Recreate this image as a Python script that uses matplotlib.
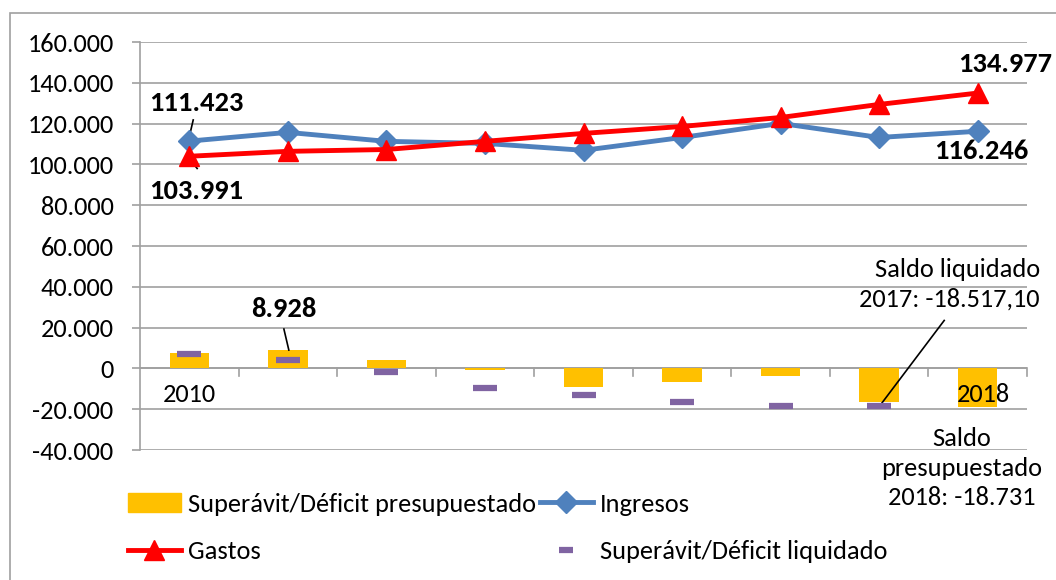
import numpy as np
import matplotlib
matplotlib.use('Agg')
import matplotlib.pyplot as plt
from matplotlib.lines import Line2D
from matplotlib.patches import Patch, Rectangle
from matplotlib.ticker import FuncFormatter

plt.rcParams['font.family'] = ['Carlito', 'Lato', 'DejaVu Sans']

years = [2010, 2011, 2012, 2013, 2014, 2015, 2016, 2017, 2018]
ingresos = [111423, 115700, 111300, 110300, 106900, 113200, 120100, 113200, 116246]
gastos = [103991, 106400, 107300, 111300, 115200, 118600, 123000, 129400, 134977]
presupuestado = [7400, 8928, 3900, -800, -9300, -6900, -3900, -16700, -18731]
liquidado = [6900, 3900, -2000, -9800, -13200, -16700, -18300, -18517.10, np.nan]

xlabels = ['2010', '', '', '', '', '', '', '', '2018']

fig = plt.figure(figsize=(10.56, 5.8), dpi=100)
ax = fig.add_axes([140/1056, 130/580, 887/1056, 408/580])

x = np.arange(len(years))
ax.bar(x, presupuestado, width=0.4, color='#FFC000', zorder=2)
ax.plot(x, liquidado, linestyle='none', marker='_', markersize=17,
        markeredgewidth=4.5, color='#8064A2', zorder=3)
ax.plot(x, ingresos, color='#4F81BD', lw=3.5, marker='D', markersize=11.5, zorder=4)
ax.plot(x, gastos, color='#FF0000', lw=3.5, marker='^', markersize=14, zorder=5)

ax.set_xlim(-0.5, len(years) - 0.5)
ax.set_ylim(-40000, 160000)
ax.set_yticks(np.arange(-40000, 160001, 20000))
ax.yaxis.set_major_formatter(FuncFormatter(lambda v, p: f'{v:,.0f}'.replace(',', '.')))
ax.yaxis.grid(True, color='#A0A0A0', lw=1.2)
ax.set_axisbelow(True)
for s in ['top', 'right', 'bottom']:
    ax.spines[s].set_visible(False)
ax.spines['left'].set_color('#A0A0A0')
ax.spines['left'].set_linewidth(1.2)
ax.tick_params(axis='y', length=6, color='#A0A0A0', width=1.2, labelsize=19, pad=13)

# category axis drawn on zero line
ax.axhline(0, color='#A0A0A0', lw=1.2, zorder=1)
ax.set_xticks([])
for b in np.arange(-0.5, len(years), 1.0)[1:]:
    ax.plot([b, b], [0, -3900], color='#A0A0A0', lw=1.2, zorder=1, clip_on=False)
ax.text(0.0, -13000, xlabels[0], ha='center', va='center', fontsize=19)
ax.text(8.06, -13000, xlabels[-1], ha='center', va='center', fontsize=19)

# data labels
bold = dict(fontsize=20.5, fontweight='bold', ha='center', va='center')
ax.text(0.07, 130000, '111.423', **bold)
ax.plot([0.04, 0.0], [121800, 113500], color='black', lw=1.2)
ax.text(0.07, 87000, '103.991', **bold)
ax.plot([0.0, 0.08], [103000, 98000], color='black', lw=1.2)
ax.text(8.28, 149000, '134.977', clip_on=False, **bold)
ax.text(8.04, 106500, '116.246', **bold)
ax.text(0.96, 29000, '8.928', **bold)
ax.plot([0.96, 1.01], [19300, 9000], color='black', lw=1.2)

ax.text(8.63, 41200, 'Saldo liquidado\n2017: -18.517,10', ha='right', va='center',
        fontsize=19, linespacing=1.34, clip_on=False)
ax.plot([7.01, 7.66], [-18100, 23500], color='black', lw=1.2)
ax.text(7.84, -49000, 'Saldo\npresupuestado\n2018: -18.731', ha='center', va='center',
        fontsize=19, linespacing=1.34, clip_on=False)

handles = [Patch(color='#FFC000'),
           Line2D([], [], color='#FF0000', lw=3.5, marker='^', markersize=14),
           Line2D([], [], color='#4F81BD', lw=3.5, marker='D', markersize=11.5),
           Line2D([], [], color='#8064A2', linestyle='none', marker='_',
                  markersize=10, markeredgewidth=4.5)]
labels = ['Superávit/Déficit presupuestado', 'Gastos', 'Ingresos',
          'Superávit/Déficit liquidado']
fig.legend(handles, labels, ncol=2, loc='lower left', bbox_to_anchor=(128/1056, 17/580),
           frameon=False, fontsize=19, handlelength=2.0, handletextpad=0.27,
           columnspacing=0.15, labelspacing=0.92, borderaxespad=0, borderpad=0)

fig.patches.append(Rectangle((10/1056, -0.01), 1.1, 1 - 13/580 + 0.01,
                             transform=fig.transFigure, fill=False,
                             edgecolor='#A0A0A0', lw=1.2))

fig.savefig('out.png', dpi=100)
